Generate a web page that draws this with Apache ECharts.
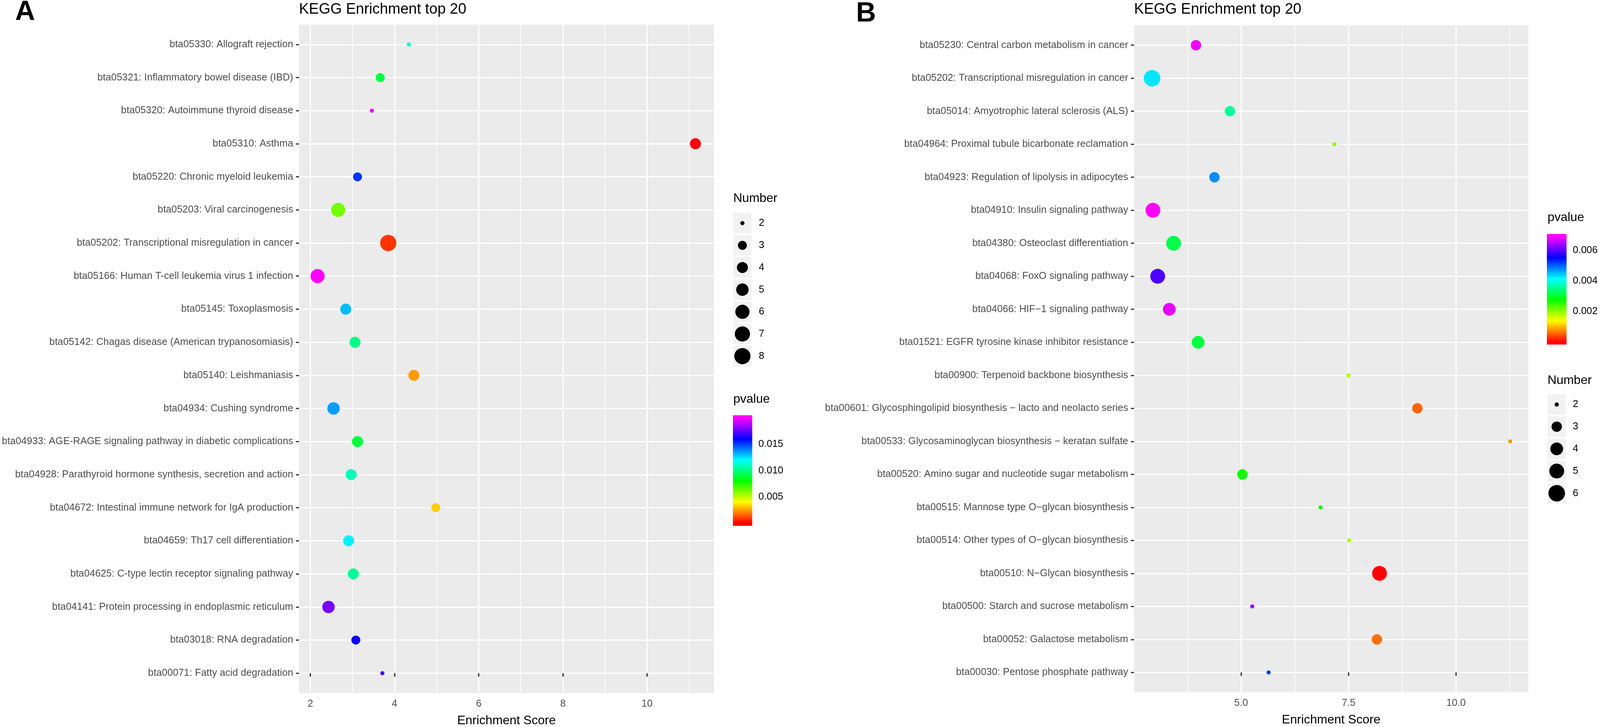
<!DOCTYPE html>
<html>
<head>
<meta charset="utf-8">
<script src="https://cdn.jsdelivr.net/npm/echarts@6/dist/echarts.min.js"></script>
<style>
html,body{margin:0;padding:0;background:#ffffff;width:100%;height:100%;overflow:hidden;}
#chart{width:100vw;height:100vh;}
</style>
</head>
<body>
<div id="chart"></div>
<script>
// ---------------- Panel A data (top to bottom as displayed) ----------------
const termsA = [
  'bta05330: Allograft rejection',
  'bta05321: Inflammatory bowel disease (IBD)',
  'bta05320: Autoimmune thyroid disease',
  'bta05310: Asthma',
  'bta05220: Chronic myeloid leukemia',
  'bta05203: Viral carcinogenesis',
  'bta05202: Transcriptional misregulation in cancer',
  'bta05166: Human T-cell leukemia virus 1 infection',
  'bta05145: Toxoplasmosis',
  'bta05142: Chagas disease (American trypanosomiasis)',
  'bta05140: Leishmaniasis',
  'bta04934: Cushing syndrome',
  'bta04933: AGE-RAGE signaling pathway in diabetic complications',
  'bta04928: Parathyroid hormone synthesis, secretion and action',
  'bta04672: Intestinal immune network for IgA production',
  'bta04659: Th17 cell differentiation',
  'bta04625: C-type lectin receptor signaling pathway',
  'bta04141: Protein processing in endoplasmic reticulum',
  'bta03018: RNA degradation',
  'bta00071: Fatty acid degradation'
];
const scoreA  = [4.34, 3.66, 3.46, 11.15, 3.12, 2.66, 3.85, 2.17, 2.84, 3.06, 4.46, 2.55, 3.12, 2.97, 4.98, 2.91, 3.02, 2.43, 3.08, 3.71];
const pvalueA = [0.0110, 0.0090, 0.0196, 0.0001, 0.0151, 0.0062, 0.0009, 0.0199, 0.0130, 0.0101, 0.0025, 0.0135, 0.0090, 0.0109, 0.0033, 0.0122, 0.0104, 0.0178, 0.0161, 0.0170];
const countA  = [2, 3, 2, 4, 3, 6, 8, 6, 4, 4, 4, 5, 4, 4, 3, 4, 4, 5, 3, 2];
const xTicksA = [2, 4, 6, 8, 10];
const xMinorA = [3, 5, 7, 9, 11];
const pTicksA = [0.005, 0.010, 0.015];
const sizeKeysA = [2, 3, 4, 5, 6, 7, 8];

// ---------------- Panel B data (top to bottom as displayed) ----------------
const termsB = [
  'bta05230: Central carbon metabolism in cancer',
  'bta05202: Transcriptional misregulation in cancer',
  'bta05014: Amyotrophic lateral sclerosis (ALS)',
  'bta04964: Proximal tubule bicarbonate reclamation',
  'bta04923: Regulation of lipolysis in adipocytes',
  'bta04910: Insulin signaling pathway',
  'bta04380: Osteoclast differentiation',
  'bta04068: FoxO signaling pathway',
  'bta04066: HIF\u22121 signaling pathway',
  'bta01521: EGFR tyrosine kinase inhibitor resistance',
  'bta00900: Terpenoid backbone biosynthesis',
  'bta00601: Glycosphingolipid biosynthesis \u2212 lacto and neolacto series',
  'bta00533: Glycosaminoglycan biosynthesis \u2212 keratan sulfate',
  'bta00520: Amino sugar and nucleotide sugar metabolism',
  'bta00515: Mannose type O\u2212glycan biosynthesis',
  'bta00514: Other types of O\u2212glycan biosynthesis',
  'bta00510: N\u2212Glycan biosynthesis',
  'bta00500: Starch and sucrose metabolism',
  'bta00052: Galactose metabolism',
  'bta00030: Pentose phosphate pathway'
];
const scoreB  = [3.95, 2.93, 4.74, 7.17, 4.38, 2.95, 3.43, 3.06, 3.33, 4.00, 7.50, 9.10, 11.26, 5.03, 6.85, 7.51, 8.22, 5.26, 8.16, 5.64];
const pvalueB = [0.00683, 0.00428, 0.00359, 0.00203, 0.00476, 0.00690, 0.00317, 0.00593, 0.00676, 0.00310, 0.00185, 0.00055, 0.00083, 0.00269, 0.00276, 0.00185, 0.00001, 0.00635, 0.00062, 0.00518];
const countB  = [3, 6, 3, 2, 3, 5, 5, 5, 4, 4, 2, 3, 2, 3, 2, 2, 5, 2, 3, 2];
const xTicksB = [5, 7.5, 10];
const xMinorB = [3.75, 6.25, 8.75, 11.25];
const pTicksB = [0.002, 0.004, 0.006];
const sizeKeysB = [2, 3, 4, 5, 6];

// ---------------- styles / layout ----------------
const FONT = '"Liberation Sans", Arial, Helvetica, sans-serif';
const rainbow = ['#FF0000', '#FFFF00', '#00FF00', '#00FFFF', '#0000FF', '#FF00FF'];
const diamA = {2: 12, 3: 26, 4: 32, 5: 36, 6: 41, 7: 44, 8: 47};
const diamB = {2: 12, 3: 30, 4: 37, 5: 43, 6: 48};
const AXIS_TEXT = '#4D4D4D';
const TICK = '#333333';

const el = document.getElementById('chart');
const chart = echarts.init(el, null, {renderer: 'canvas'});
const W = chart.getWidth(), H = chart.getHeight();
const SX = W / 4639, SY = H / 1861, SS = Math.min(SX, SY);
const X = v => v * SX, Y = v => v * SY, S = v => v * SS;

function pts(score, terms, pv, cnt) {
  const n = terms.length;
  return score.map((s, i) => [s, n - 1 - i, pv[i], cnt[i]]);
}
function barExtent(pv) {
  const lo = Math.min(...pv), hi = Math.max(...pv);
  const pad = (hi - lo) * 0.025 / 0.95;
  return [lo - pad, hi + pad];
}
function colorbar(pv) {
  const lo = Math.min(...pv), hi = Math.max(...pv);
  const ext = barExtent(pv);
  return function (params, api) {
    const cs = params.coordSys;
    const stops = [{offset: 0, color: rainbow[0]}];
    rainbow.forEach((c, k) => {
      const v = lo + (hi - lo) * k / (rainbow.length - 1);
      stops.push({offset: (v - ext[0]) / (ext[1] - ext[0]), color: c});
    });
    stops.push({offset: 1, color: rainbow[rainbow.length - 1]});
    return {
      type: 'rect',
      shape: {x: cs.x, y: cs.y, width: cs.width, height: cs.height},
      style: {fill: {type: 'linear', x: 0, y: 1, x2: 0, y2: 0, colorStops: stops}}
    };
  };
}

function mainX(gridIndex, ext, ticks) {
  return {
    type: 'value', gridIndex, min: ext[0], max: ext[1],
    position: 'bottom',
    name: 'Enrichment Score', nameLocation: 'middle', nameGap: Y(55),
    nameTextStyle: {fontSize: S(36), color: '#000', fontFamily: FONT},
    axisLine: {show: false},
    axisTick: {show: true, length: Y(9), customValues: ticks, lineStyle: {color: TICK, width: S(3.5)}},
    axisLabel: {show: true, customValues: ticks, margin: Y(15), fontSize: S(28.8), color: AXIS_TEXT, fontFamily: FONT,
      formatter: v => (ticks.some(t => t % 1 !== 0) ? v.toFixed(1) : String(v))},
    splitLine: {show: true, lineStyle: {color: '#FFFFFF', width: S(3.5)}}
  };
}
function minorX(gridIndex, ext, minor) {
  return {
    type: 'value', gridIndex, min: ext[0], max: ext[1], position: 'top',
    axisLine: {show: false},
    axisTick: {show: false, customValues: minor},
    axisLabel: {show: false, customValues: minor},
    splitLine: {show: true, lineStyle: {color: '#FFFFFF', width: S(1.75)}}
  };
}
function mainY(gridIndex, terms) {
  const n = terms.length;
  const idx = terms.map((t, i) => i);
  return {
    type: 'value', gridIndex, min: -0.6, max: n - 1 + 0.6,
    axisLine: {show: false},
    axisTick: {show: true, length: X(9), customValues: idx, lineStyle: {color: TICK, width: S(3.5)}},
    axisLabel: {show: true, customValues: idx, margin: X(17), fontSize: S(28.8), color: AXIS_TEXT, fontFamily: FONT,
      formatter: v => terms[n - 1 - Math.round(v)]},
    splitLine: {show: true, lineStyle: {color: '#FFFFFF', width: S(3.5)}}
  };
}
function hiddenX(gridIndex) {
  return {type: 'value', gridIndex, min: 0, max: 1, show: false};
}
function barY(gridIndex, pv, ticks, side) {
  const ext = barExtent(pv);
  return {
    type: 'value', gridIndex, min: ext[0], max: ext[1], position: side,
    axisLine: {show: false},
    axisTick: {show: true, inside: true, length: X(11), customValues: ticks, lineStyle: {color: '#FFFFFF', width: S(2)}},
    axisLabel: {show: side === 'right', customValues: ticks, margin: X(18), fontSize: S(28.8), color: '#000', fontFamily: FONT,
      formatter: v => v.toFixed(3)},
    splitLine: {show: false}
  };
}
function sizeY(gridIndex, keys, margin) {
  return {
    type: 'category', gridIndex, data: keys.map(String), inverse: true, position: 'right',
    axisLine: {show: false}, axisTick: {show: false}, splitLine: {show: false},
    axisLabel: {show: true, margin: X(margin), fontSize: S(28.8), color: '#000', fontFamily: FONT}
  };
}
function txt(text, left, top, size, bold) {
  return {text, left: X(left), top: Y(top), padding: 0,
    textStyle: {fontSize: S(size), fontWeight: bold ? 'bold' : 'normal', color: '#000', fontFamily: FONT}};
}
function box(left, top, width, height, bg) {
  const g = {left: X(left), top: Y(top), width: X(width), height: Y(height), containLabel: false, outerBoundsMode: 'none'};
  if (bg) { g.show = true; g.backgroundColor = '#EBEBEB'; g.borderWidth = 0; }
  return g;
}

const option = {
  animation: false,
  backgroundColor: '#FFFFFF',
  textStyle: {fontFamily: FONT},
  title: [
    txt('A', 44, -4, 80, true),
    txt('KEGG Enrichment top 20', 867, 6, 43, false),
    txt('Number', 2126, 492, 36, false),
    txt('pvalue', 2126, 1006, 36, false),
    txt('B', 2482, 0, 80, true),
    txt('KEGG Enrichment top 20', 3288, 6, 43, false),
    txt('pvalue', 4487, 541, 36, false),
    txt('Number', 4487, 958, 36, false)
  ],
  grid: [
    box(867, 63, 1203, 1711, true),
    box(2126, 543, 53, 397, false),
    box(2125, 1063, 56, 283, false),
    box(3288, 65, 1143, 1707, true),
    box(4485, 599, 57, 283, false),
    box(4487, 1007, 53, 284, false)
  ],
  xAxis: [
    mainX(0, [1.73, 11.59], xTicksA),
    minorX(0, [1.73, 11.59], xMinorA),
    hiddenX(1),
    hiddenX(2),
    mainX(3, [2.51, 11.68], xTicksB),
    minorX(3, [2.51, 11.68], xMinorB),
    hiddenX(4),
    hiddenX(5)
  ],
  yAxis: [
    mainY(0, termsA),
    sizeY(1, sizeKeysA, 21),
    barY(2, pvalueA, pTicksA, 'right'),
    barY(2, pvalueA, pTicksA, 'left'),
    mainY(3, termsB),
    barY(4, pvalueB, pTicksB, 'right'),
    barY(4, pvalueB, pTicksB, 'left'),
    sizeY(5, sizeKeysB, 20)
  ],
  visualMap: [
    {type: 'continuous', show: false, seriesIndex: 0, dimension: 2,
     min: Math.min(...pvalueA), max: Math.max(...pvalueA), inRange: {color: rainbow}},
    {type: 'continuous', show: false, seriesIndex: 4, dimension: 2,
     min: Math.min(...pvalueB), max: Math.max(...pvalueB), inRange: {color: rainbow}}
  ],
  series: [
    {type: 'scatter', xAxisIndex: 0, yAxisIndex: 0, z: 5, silent: true,
     data: pts(scoreA, termsA, pvalueA, countA),
     symbol: 'circle', symbolSize: d => S(diamA[d[3]]), itemStyle: {opacity: 1}},
    {type: 'custom', xAxisIndex: 3, yAxisIndex: 2, silent: true,
     data: [[0.5, Math.min(...pvalueA)]], renderItem: colorbar(pvalueA)},
    {type: 'scatter', xAxisIndex: 2, yAxisIndex: 1, silent: true, z: 2,
     data: sizeKeysA.map(k => [0.5, String(k)]), symbol: 'rect', symbolSize: [X(53), Y(53)],
     itemStyle: {color: '#F2F2F2', opacity: 1}},
    {type: 'scatter', xAxisIndex: 2, yAxisIndex: 1, silent: true, z: 3,
     data: sizeKeysA.map(k => [0.5, String(k), k]), symbol: 'circle', symbolSize: d => S(diamA[d[2]]),
     itemStyle: {color: '#000000', opacity: 1}},
    {type: 'scatter', xAxisIndex: 4, yAxisIndex: 4, z: 5, silent: true,
     data: pts(scoreB, termsB, pvalueB, countB),
     symbol: 'circle', symbolSize: d => S(diamB[d[3]]), itemStyle: {opacity: 1}},
    {type: 'custom', xAxisIndex: 6, yAxisIndex: 5, silent: true,
     data: [[0.5, Math.min(...pvalueB)]], renderItem: colorbar(pvalueB)},
    {type: 'scatter', xAxisIndex: 7, yAxisIndex: 7, silent: true, z: 2,
     data: sizeKeysB.map(k => [0.5, String(k)]), symbol: 'rect', symbolSize: [X(53), Y(53)],
     itemStyle: {color: '#F2F2F2', opacity: 1}},
    {type: 'scatter', xAxisIndex: 7, yAxisIndex: 7, silent: true, z: 3,
     data: sizeKeysB.map(k => [0.5, String(k), k]), symbol: 'circle', symbolSize: d => S(diamB[d[2]]),
     itemStyle: {color: '#000000', opacity: 1}}
  ]
};

chart.setOption(option);
</script>
</body>
</html>
